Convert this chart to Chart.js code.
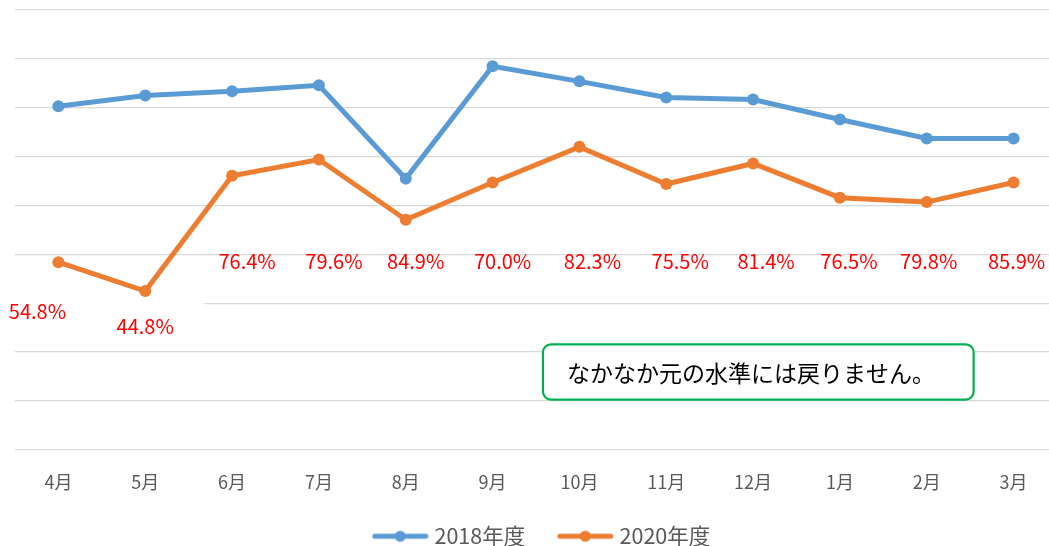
<!DOCTYPE html>
<html>
<head>
<meta charset="utf-8">
<script src="https://cdn.jsdelivr.net/npm/chart.js@4"></script>
<style>
  html, body { margin: 0; padding: 0; background: #fff; overflow: hidden; }
  canvas { display: block; }
</style>
</head>
<body>
<canvas id="chart" width="1063" height="546"></canvas>
<script>
const months = ['4月', '5月', '6月', '7月', '8月', '9月', '10月', '11月', '12月', '1月', '2月', '3月'];
const fy2018 = [703, 725, 734, 746, 555, 785, 754, 721, 717, 676, 637, 637];
const fy2020 = [384, 325, 561, 594, 471, 547, 620, 544, 586, 516, 507, 547];
const ratioLabels = ['54.8%', '44.8%', '76.4%', '79.6%', '84.9%', '70.0%', '82.3%', '75.5%', '81.4%', '76.5%', '79.8%', '85.9%'];
const noteText = 'なかなか元の水準には戻りません。';

const BLUE = '#5B9BD5';
const ORANGE = '#ED7D31';
const JP_FONT = '"Noto Sans CJK JP", "Noto Sans", sans-serif';

// legend marker: line with a dot; the image is a bit wider than its box so the text sits close
function legendIcon(color) {
    const c = document.createElement('canvas');
    c.width = 66;
    c.height = 14;
    const g = c.getContext('2d');
    g.strokeStyle = color;
    g.lineWidth = 5;
    g.lineCap = 'round';
    g.beginPath();
    g.moveTo(12, 7);
    g.lineTo(63, 7);
    g.stroke();
    g.fillStyle = color;
    g.beginPath();
    g.arc(37.5, 7, 5.5, 0, Math.PI * 2);
    g.fill();
    return c;
}

// white patch that hides the gridline behind the first two ratio labels
const maskPlugin = {
    id: 'mask',
    beforeDatasetsDraw(chart) {
        const { ctx, scales: { x, y } } = chart;
        ctx.save();
        ctx.fillStyle = '#fff';
        const right = x.getPixelForValue(1.68);
        const top = y.getPixelForValue(315);
        const bottom = y.getPixelForValue(215);
        ctx.fillRect(0, top, right, bottom - top);
        ctx.restore();
    }
};

const ratioPlugin = {
    id: 'ratios',
    afterDatasetsDraw(chart) {
        const { ctx, scales: { x, y } } = chart;
        // label nudges (px) as placed in the original sheet
        const dx = [-21, 0, 15, 15, 10, 10, 13, 14, 13, 9, 2, 3];
        ctx.save();
        ctx.fillStyle = '#FF0000';
        ctx.font = '20px ' + JP_FONT;
        ctx.textAlign = 'center';
        ctx.textBaseline = 'middle';
        ratioLabels.forEach((txt, i) => {
            let val = 386;
            if (i === 0) val = 284;
            if (i === 1) val = 253;
            ctx.fillText(txt, x.getPixelForValue(i) + dx[i], y.getPixelForValue(val));
        });

        // callout box
        const left = x.getPixelForValue(5.58);
        const right = x.getPixelForValue(10.54);
        const top = y.getPixelForValue(216);
        const bottom = y.getPixelForValue(103);
        ctx.beginPath();
        ctx.roundRect(left, top, right - left, bottom - top, 8);
        ctx.fillStyle = '#fff';
        ctx.fill();
        ctx.lineWidth = 2.2;
        ctx.strokeStyle = '#00B050';
        ctx.stroke();
        ctx.fillStyle = '#000';
        ctx.font = '23px ' + JP_FONT;
        ctx.textAlign = 'left';
        ctx.fillText(noteText, left + 24, (top + bottom) / 2 + 1);
        ctx.restore();
    }
};

const ctx = document.getElementById('chart').getContext('2d');
new Chart(ctx, {
    type: 'line',
    data: {
        labels: months,
        datasets: [
            {
                label: '2018年度',
                data: fy2018,
                borderColor: BLUE,
                backgroundColor: BLUE,
                borderWidth: 5,
                pointRadius: 6,
                pointHoverRadius: 6,
                pointBorderWidth: 0,
                tension: 0
            },
            {
                label: '2020年度',
                data: fy2020,
                borderColor: ORANGE,
                backgroundColor: ORANGE,
                borderWidth: 5,
                pointRadius: 6,
                pointHoverRadius: 6,
                pointBorderWidth: 0,
                tension: 0
            }
        ]
    },
    options: {
        responsive: false,
        animation: false,
        events: [],
        layout: { padding: { left: 15, right: 0, top: 10, bottom: -11 } },
        scales: {
            x: {
                offset: true,
                grid: { display: false, drawTicks: false },
                border: { display: false },
                ticks: {
                    color: '#595959',
                    font: { family: JP_FONT, size: 18 },
                    padding: 21,
                    maxRotation: 0
                }
            },
            y: {
                min: 0,
                max: 900,
                grid: { color: '#D9D9D9', lineWidth: 1.3, drawTicks: false },
                border: { display: false },
                ticks: { display: false, stepSize: 100 }
            }
        },
        plugins: {
            legend: {
                position: 'bottom',
                labels: {
                    usePointStyle: true,
                    pointStyleWidth: 56,
                    color: '#595959',
                    font: { family: JP_FONT, size: 21.5 },
                    padding: 12,
                    generateLabels(chart) {
                        const items = Chart.defaults.plugins.legend.labels.generateLabels(chart);
                        items.forEach((it, i) => {
                            it.pointStyle = legendIcon(i === 0 ? BLUE : ORANGE);
                        });
                        items[0].text += '\u2002 ';
                        return items;
                    }
                }
            },
            tooltip: { enabled: false }
        }
    },
    plugins: [maskPlugin, ratioPlugin]
});
</script>
</body>
</html>
